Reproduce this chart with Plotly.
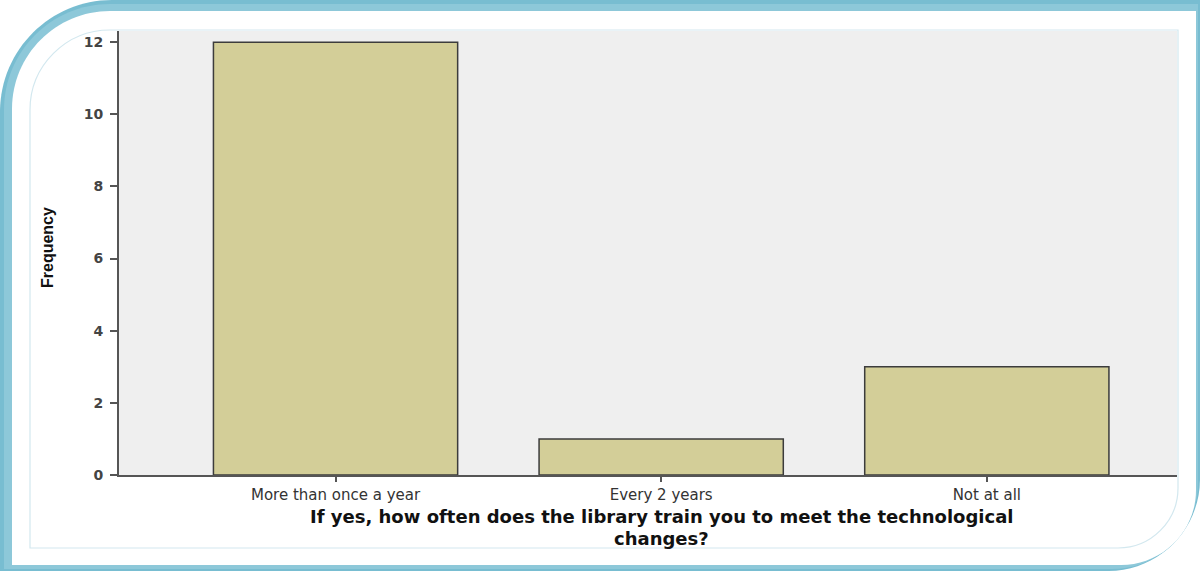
import plotly.graph_objects as go

# ---- data ----
categories = ["More than once a year", "Every 2 years", "Not at all"]
frequency = [12, 1, 3]
y_ticks = [0, 2, 4, 6, 8, 10, 12]
x_title_lines = ["If yes, how often does the library train you to meet the technological",
                 "changes?"]
y_title = "Frequency"

# ---- geometry ----
W, H = 1200, 571
L, R, T, B = 119, 23, 31, 96
PW, PH = W - L - R, H - T - B


def px(x):
    return (x - L) / PW


def py(y):
    return (H - B - y) / PH


def rrect(x0, y0, x1, y1, rtl, rbr):
    k = 0.5523
    pts = [
        ("M", [(x0 + rtl, y0)]),
        ("L", [(x1, y0)]),
        ("L", [(x1, y1 - rbr)]),
        ("C", [(x1, y1 - rbr + k * rbr), (x1 - rbr + k * rbr, y1), (x1 - rbr, y1)]),
        ("L", [(x0, y1)]),
        ("L", [(x0, y0 + rtl)]),
        ("C", [(x0, y0 + rtl - k * rtl), (x0 + rtl - k * rtl, y0), (x0 + rtl, y0)]),
    ]
    s = ""
    for cmd, ps in pts:
        s += cmd + " " + " ".join(f"{px(a):.5f},{py(b):.5f}" for a, b in ps) + " "
    return s + "Z"


fig = go.Figure()
fig.add_trace(go.Bar(
    x=categories, y=frequency, width=0.75,
    marker=dict(color="#d3ce98", line=dict(color="#3c3c3c", width=1.5)),
    hoverinfo="x+y",
))

shapes = [
    dict(type="path", xref="paper", yref="paper", layer="below",
         path=rrect(0, 0, 1200, 571, 112, 92), fillcolor="#78bdd1", line=dict(width=0)),
    dict(type="path", xref="paper", yref="paper", layer="below",
         path=rrect(4, 4, 1198, 569, 106, 86), fillcolor="#8dc8d9", line=dict(width=0)),
    dict(type="path", xref="paper", yref="paper", layer="below",
         path=rrect(12, 11, 1196, 565, 98, 75), fillcolor="#ffffff", line=dict(width=0)),
    dict(type="path", xref="paper", yref="paper", layer="below",
         path=rrect(30, 30, 1178, 548, 80, 60), fillcolor="rgba(0,0,0,0)",
         line=dict(color="#d3e8ef", width=1.2)),
    dict(type="rect", xref="paper", yref="paper", layer="below",
         x0=0, x1=1, y0=0, y1=1, fillcolor="#efefef", line=dict(width=0)),
]

title_font = dict(family="DejaVu Sans", size=18, color="#111111", weight="bold")
annotations = [
    dict(xref="paper", yref="paper", x=px(661), y=py(516), text=x_title_lines[0],
         showarrow=False, xanchor="center", yanchor="middle", font=title_font),
    dict(xref="paper", yref="paper", x=px(661), y=py(538), text=x_title_lines[1],
         showarrow=False, xanchor="center", yanchor="middle", font=title_font),
    dict(xref="paper", yref="paper", x=px(47), y=py(248), text=y_title, textangle=-90,
         showarrow=False, xanchor="center", yanchor="middle",
         font=dict(family="Liberation Sans", size=16, color="#111111", weight="bold")),
]

fig.update_layout(
    width=W, height=H,
    margin=dict(l=L, r=R, t=T, b=B, pad=0),
    paper_bgcolor="#ffffff",
    plot_bgcolor="rgba(0,0,0,0)",
    showlegend=False,
    bargap=0.25,
    shapes=shapes,
    annotations=annotations,
    xaxis=dict(
        type="category", range=[-0.665, 2.584],
        showgrid=False, zeroline=False,
        showline=True, linecolor="#555555", linewidth=2,
        ticks="outside", ticklen=5, tickwidth=2, tickcolor="#555555",
        tickfont=dict(family="DejaVu Sans", size=15, color="#333333"),
    ),
    yaxis=dict(
        range=[0, 12.31], tickvals=y_ticks,
        showgrid=False, zeroline=False,
        showline=True, linecolor="#555555", linewidth=2,
        ticks="outside", ticklen=7, tickwidth=2, tickcolor="#555555",
        ticklabelstandoff=4,
        tickfont=dict(family="DejaVu Sans", size=14, color="#444444", weight="bold"),
    ),
)

fig.write_html(
    "out.html",
    config={"displayModeBar": False},
    post_script="document.body.style.margin='0';document.body.style.overflow='hidden';",
)
